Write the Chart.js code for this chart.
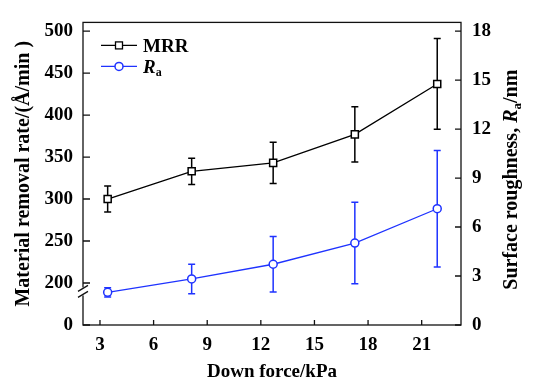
<!DOCTYPE html>
<html>
<head>
<meta charset="utf-8">
<script src="https://cdn.jsdelivr.net/npm/chart.js@4/dist/chart.umd.min.js"></script>
<style>
  body { margin: 0; background: #fff; }
  #wrap { width: 534px; height: 379px; position: relative; }
</style>
</head>
<body>
<div id="wrap"><canvas id="chart"></canvas></div>
<script>
// data
const forceKPa = [3.43, 8.13, 12.69, 17.26, 21.87];
const mrrValues = [300, 333, 343, 377, 437];
const mrrErrors = [15.5, 15.6, 24.5, 33, 54];
const raValues = [2.0, 2.82, 3.72, 5.02, 7.12];
const raErrors = [0.28, 0.9, 1.7, 2.5, 3.57];

const xTicks = [3, 6, 9, 12, 15, 18, 21];
// left axis is broken: the bottom tick stands for 0
const mrrTicks = [150, 200, 250, 300, 350, 400, 450, 500];
const mrrTickLabels = ['0', '200', '250', '300', '350', '400', '450', '500'];
const raTicks = [0, 3, 6, 9, 12, 15, 18];

const FONT = "'Liberation Serif', 'Times New Roman', serif";
const BLUE = '#1f33ff';

function points(vals) {
  return vals.map((v, i) => ({ x: forceKPa[i], y: v }));
}

function drawErrorBars(ctx, xs, ys, vals, errs, color) {
  ctx.save();
  ctx.strokeStyle = color;
  ctx.lineWidth = 1.5;
  vals.forEach((v, i) => {
    const px = xs.getPixelForValue(forceKPa[i]);
    const top = ys.getPixelForValue(v + errs[i]);
    const bot = ys.getPixelForValue(v - errs[i]);
    ctx.beginPath();
    ctx.moveTo(px, top); ctx.lineTo(px, bot);
    ctx.moveTo(px - 3.5, top); ctx.lineTo(px + 3.5, top);
    ctx.moveTo(px - 3.5, bot); ctx.lineTo(px + 3.5, bot);
    ctx.stroke();
  });
  ctx.restore();
}

const decor = {
  id: 'decor',
  beforeDatasetsDraw(chart) {
    const { ctx, scales } = chart;
    drawErrorBars(ctx, scales.x, scales.y, mrrValues, mrrErrors, '#000');
    drawErrorBars(ctx, scales.x, scales.y2, raValues, raErrors, BLUE);
  },
  afterDraw(chart) {
    const { ctx, chartArea: a, scales } = chart;
    ctx.save();
    ctx.strokeStyle = '#111';
    ctx.lineWidth = 1.3;
    ctx.strokeRect(a.left, a.top, a.right - a.left, a.bottom - a.top);

    // inward ticks
    ctx.beginPath();
    mrrTicks.forEach(v => {
      const py = scales.y.getPixelForValue(v);
      ctx.moveTo(a.left, py); ctx.lineTo(a.left + 7, py);
    });
    raTicks.forEach(v => {
      const py = scales.y2.getPixelForValue(v);
      ctx.moveTo(a.right, py); ctx.lineTo(a.right - 6, py);
    });
    xTicks.forEach(v => {
      const px = scales.x.getPixelForValue(v);
      ctx.moveTo(px, a.bottom); ctx.lineTo(px, a.bottom - 5);
    });
    ctx.stroke();

    // axis break
    const by = scales.y.getPixelForValue(190);
    ctx.fillStyle = '#fff';
    ctx.fillRect(a.left - 2, by - 4, 4, 8);
    ctx.beginPath();
    [-3, 3].forEach(d => {
      ctx.moveTo(a.left - 5, by + d + 3);
      ctx.lineTo(a.left + 5, by + d - 3);
    });
    ctx.stroke();

    // legend
    const lx = a.left + 18, ly1 = a.top + 23, ly2 = a.top + 44;
    ctx.lineWidth = 1.3;
    ctx.strokeStyle = '#000';
    ctx.beginPath(); ctx.moveTo(lx, ly1); ctx.lineTo(lx + 36, ly1); ctx.stroke();
    ctx.fillStyle = '#fff';
    ctx.fillRect(lx + 14.5, ly1 - 3.5, 7, 7);
    ctx.strokeRect(lx + 14.5, ly1 - 3.5, 7, 7);
    ctx.strokeStyle = BLUE;
    ctx.beginPath(); ctx.moveTo(lx, ly2); ctx.lineTo(lx + 36, ly2); ctx.stroke();
    ctx.lineWidth = 1.5;
    ctx.beginPath(); ctx.arc(lx + 18, ly2, 4, 0, Math.PI * 2);
    ctx.fill(); ctx.stroke();

    ctx.fillStyle = '#000';
    ctx.textBaseline = 'alphabetic';
    ctx.font = `bold 19px ${FONT}`;
    ctx.fillText('MRR', lx + 42, ly1 + 6.5);
    ctx.font = `italic bold 19px ${FONT}`;
    ctx.fillText('R', lx + 42, ly2 + 6.5);
    const rw = ctx.measureText('R').width;
    ctx.font = `bold 12px ${FONT}`;
    ctx.fillText('a', lx + 42 + rw, ly2 + 10);

    // axis titles
    ctx.textAlign = 'center';
    ctx.textBaseline = 'alphabetic';
    ctx.font = `bold 19px ${FONT}`;
    ctx.fillText('Down force/kPa', (a.left + a.right) / 2, 377);

    ctx.save();
    ctx.translate(29, (a.top + a.bottom) / 2);
    ctx.rotate(-Math.PI / 2);
    ctx.font = `bold 20px ${FONT}`;
    ctx.fillText('Material removal rate/(Å/min )', 0, 0);
    ctx.restore();

    // right title with italic R and subscript a
    ctx.save();
    ctx.translate(517, (a.top + a.bottom) / 2 + 6);
    ctx.rotate(-Math.PI / 2);
    ctx.textAlign = 'left';
    const parts = [
      ['Surface roughness, ', `bold 20px ${FONT}`, 0],
      ['R', `italic bold 20px ${FONT}`, 0],
      ['a', `bold 13px ${FONT}`, 4],
      ['/nm', `bold 20px ${FONT}`, 0]
    ];
    let total = 0;
    parts.forEach(p => { ctx.font = p[1]; total += ctx.measureText(p[0]).width; });
    let cx = -total / 2;
    parts.forEach(p => {
      ctx.font = p[1];
      ctx.fillText(p[0], cx, p[2]);
      cx += ctx.measureText(p[0]).width;
    });
    ctx.restore();

    ctx.restore();
  }
};

const tickFont = { family: FONT, size: 19, weight: 'bold' };

new Chart(document.getElementById('chart'), {
  type: 'line',
  data: {
    datasets: [
      {
        label: 'MRR',
        data: points(mrrValues),
        yAxisID: 'y',
        borderColor: '#000',
        borderWidth: 1.3,
        pointStyle: 'rect',
        pointRadius: 5,
        pointBorderWidth: 1.5,
        pointBackgroundColor: '#fff',
        pointBorderColor: '#000'
      },
      {
        label: 'Ra',
        data: points(raValues),
        yAxisID: 'y2',
        borderColor: BLUE,
        borderWidth: 1.3,
        pointStyle: 'circle',
        pointRadius: 4,
        pointBorderWidth: 1.5,
        pointBackgroundColor: '#fff',
        pointBorderColor: BLUE
      }
    ]
  },
  options: {
    responsive: true,
    maintainAspectRatio: false,
    animation: false,
    layout: { padding: { top: 11, left: 0, right: 0, bottom: 0 } },
    plugins: { legend: { display: false }, tooltip: { enabled: false } },
    scales: {
      x: {
        type: 'linear',
        min: 2.05,
        max: 23.2,
        grid: { display: false, drawTicks: false },
        border: { display: false },
        afterBuildTicks: s => { s.ticks = xTicks.map(v => ({ value: v })); },
        afterFit: s => { s.height = 54; },
        ticks: { font: tickFont, color: '#000', padding: 9 }
      },
      y: {
        type: 'linear',
        position: 'left',
        min: 150,
        max: 510.3,
        grid: { display: false, drawTicks: false },
        border: { display: false },
        afterBuildTicks: s => { s.ticks = mrrTicks.map(v => ({ value: v })); },
        afterFit: s => { s.width = 83; },
        ticks: {
          font: tickFont, color: '#000', padding: 10,
          callback: v => mrrTickLabels[mrrTicks.indexOf(v)]
        }
      },
      y2: {
        type: 'linear',
        position: 'right',
        min: 0,
        max: 18.53,
        grid: { display: false, drawTicks: false },
        border: { display: false },
        afterBuildTicks: s => { s.ticks = raTicks.map(v => ({ value: v })); },
        afterFit: s => { s.width = 73; },
        ticks: { font: tickFont, color: '#000', padding: 11 }
      }
    }
  },
  plugins: [decor]
});
</script>
</body>
</html>
